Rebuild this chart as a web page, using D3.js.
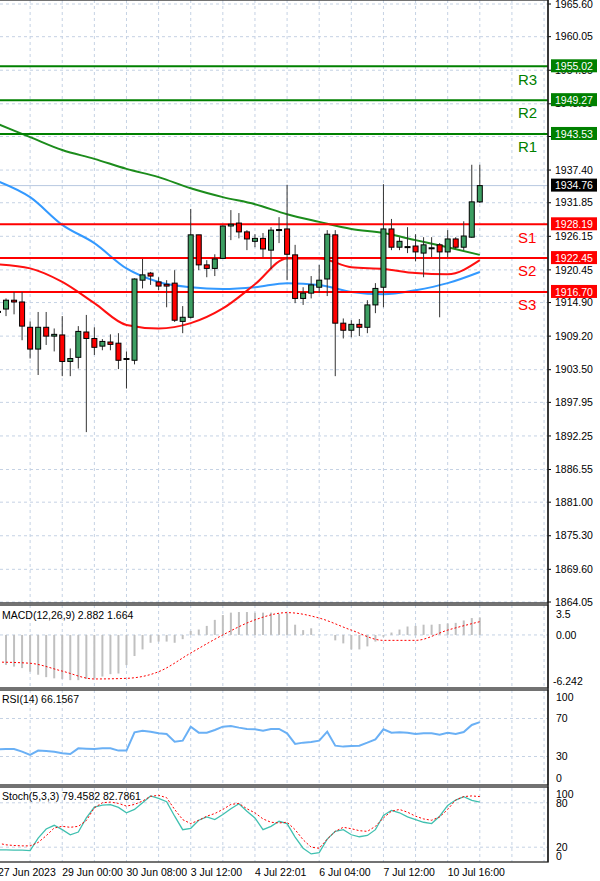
<!DOCTYPE html>
<html><head><meta charset="utf-8">
<script src="https://cdn.jsdelivr.net/npm/d3@7"></script>
<style>body{margin:0;background:#fff}svg{display:block;font-family:"Liberation Sans",Arial,sans-serif}</style>
</head><body>
<script>
// candles: open, high, low, close
var opens  = [1913.3,1913.8,1915.3,1915.0,1910.7,1907.0,1910.7,1909.2,1909.4,1904.9,1905.6,1909.9,1908.8,1907.5,1908.2,1908.0,1905.3,1905.1,1918.7,1919.9,1918.4,1918.0,1918.2,1911.7,1912.4,1926.4,1921.3,1920.7,1922.4,1927.9,1928.4,1926.9,1925.3,1925.8,1923.8,1927.2,1927.4,1923.0,1915.6,1916.5,1917.5,1918.9,1926.4,1911.4,1910.2,1911.2,1910.7,1914.5,1917.5,1927.4,1924.3,1924.3,1924.5,1923.3,1924.1,1924.7,1923.5,1925.7,1924.3,1926.0,1932.0]
var highs  = [1913.6,1915.6,1916.7,1916.7,1911.7,1913.3,1913.3,1910.5,1912.6,1907.1,1910.9,1912.8,1910.7,1908.7,1909.5,1909.7,1906.6,1919.0,1922.3,1920.1,1919.2,1918.7,1920.4,1914.3,1930.8,1926.4,1922.1,1923.1,1928.0,1930.6,1930.1,1927.2,1926.5,1926.7,1927.7,1929.4,1934.9,1924.7,1917.5,1919.4,1921.3,1927.2,1927.2,1912.2,1911.9,1912.1,1915.3,1918.2,1935.0,1929.1,1926.0,1927.7,1926.5,1926.0,1926.0,1925.0,1927.2,1926.0,1928.7,1938.3,1938.3]
var lows   = [1912.9,1912.6,1912.9,1908.5,1905.4,1902.6,1907.7,1906.6,1902.4,1902.4,1903.7,1892.9,1906.0,1906.8,1906.8,1903.6,1900.3,1904.4,1917.3,1917.9,1917.0,1914.1,1911.6,1909.7,1912.2,1920.4,1919.2,1919.4,1922.3,1925.5,1925.8,1923.8,1924.3,1922.6,1920.6,1925.0,1918.7,1914.8,1914.5,1915.6,1916.5,1916.0,1902.4,1908.8,1909.0,1909.2,1909.7,1913.1,1914.1,1923.8,1923.8,1923.3,1921.9,1919.2,1922.6,1912.4,1922.6,1924.0,1923.8,1925.9,1931.8]
var closes = [1913.4,1915.3,1915.0,1910.9,1907.0,1910.7,1909.2,1909.5,1904.9,1905.4,1910.0,1908.8,1907.3,1908.3,1907.8,1905.1,1905.4,1918.9,1919.6,1919.4,1917.7,1917.7,1911.9,1912.4,1926.4,1921.3,1920.7,1922.3,1927.9,1928.2,1926.9,1925.7,1925.8,1924.0,1927.2,1927.3,1923.1,1915.6,1916.5,1917.9,1918.7,1926.5,1911.4,1910.2,1911.2,1910.7,1914.5,1917.3,1927.4,1924.3,1925.3,1924.4,1923.5,1924.7,1924.2,1923.5,1925.7,1924.3,1926.2,1932.0,1934.76]

// moving averages, read every 4th candle
var maIdx   = [0,4,8,12,16,20,24,28,32,36,40,44,48,52,56,60]
var maGreen = [1945.2,1943.0,1940.8,1939.3,1937.6,1936.2,1934.3,1932.8,1931.6,1929.9,1928.6,1927.4,1926.7,1925.5,1924.3,1923.0]
var maBlue  = [1935.5,1932.8,1928.1,1925.0,1920.7,1918.4,1917.5,1917.2,1917.5,1918.2,1917.9,1916.7,1916.3,1917.0,1918.2,1920.1]
var maRed   = [1921.4,1920.7,1918.4,1914.8,1911.1,1910.5,1911.4,1913.9,1918.0,1922.4,1922.4,1920.9,1920.6,1919.9,1919.7,1922.1]

var levelNames  = ["R3","R2","R1","S1","S2","S3"]
var levelValues = [1955.02,1949.27,1943.53,1928.19,1922.45,1916.70]
var priceTicks = [1965.60,1960.05,1954.35,1948.65,1943.10,1937.40,1931.85,1926.15,1920.45,1914.90,1909.20,1903.50,1897.95,1892.25,1886.55,1881.00,1875.30,1869.60,1864.05]

// MACD histogram (candles 1..60) and signal (every 4th candle)
var macdHist = [-4.97,-5.25,-5.5,-6.1,-6.6,-7.0,-7.2,-7.3,-7.5,-7.5,-7.3,-7.2,-6.9,-6.5,-6.4,-5.0,-3.5,-2.4,-1.3,-1.1,-1.1,-1.3,-0.7,0.66,0.9,1.5,2.5,3.3,3.7,3.8,3.8,3.7,3.7,3.7,3.5,3.6,1.7,0.8,1.1,0.05,0.05,-0.9,-1.4,-2.4,-2.4,-1.9,-1.1,-0.3,0.4,0.9,1.4,1.5,1.7,1.7,1.8,1.9,2.0,2.4,2.8,2.88]
var macdSignal = [-4.5,-4.7,-6.0,-7.3,-7.2,-6.1,-3.0,0.0,2.5,3.7,2.8,0.8,-0.9,-0.9,0.8,2.2]

var rsi = [37.6,37.9,37.9,35.1,31.6,36.2,35.8,35.1,33.4,32.6,38.6,38.2,37.9,38.6,38.6,36.2,36.2,55.5,57.2,56.1,54.4,53.7,45.6,46.7,61.4,55.1,55.1,57.9,61.4,62.1,60.4,59.0,58.6,57.2,59.0,59.0,54.4,43.2,44.6,45.3,46.7,56.1,41.4,40.4,41.1,41.4,44.6,48.1,58.6,55.1,55.4,55.1,53.7,54.4,54.4,53.0,55.1,53.7,55.8,63.2,66.2]
var stochK = [16.4,16.4,16,16,15.5,32.3,44.6,49.6,43.7,36.8,40.5,59.6,74.2,76.9,77.4,73.7,66.5,71.0,80.1,89.2,86.0,81.4,61.9,43.7,45.5,56.4,60.9,57.3,64.1,71.9,78.7,68.7,59.6,43.7,48.2,55.0,51.9,33.7,18.7,10.9,12.7,30.9,41.4,43.7,36.8,34.1,35.9,43.7,62.8,69.6,66.5,60.9,57.3,53.7,51.9,61.9,76.4,83.7,88.2,83.2,80.9]
var stochD = [25.5,23.2,22.3,21.8,21.8,26.4,35.5,46.0,48.2,46.9,48.2,56.0,73.2,80.1,81.0,79.2,75.5,77.8,82.4,88.7,90.1,86.9,71.0,57.3,51.9,56.4,61.9,65.5,71.0,77.8,79.2,71.9,66.5,58.2,53.7,52.8,53.7,43.7,30.0,20.0,18.6,30.9,41.4,46.9,45.0,42.3,41.4,48.2,59.6,68.7,71.0,67.3,61.9,58.2,56.4,60.9,71.0,83.8,88.4,89.3,88.4]

var timeLabels = ["27 Jun 2023","29 Jun 00:00","30 Jun 08:00","3 Jul 12:00","4 Jul 22:01","6 Jul 04:00","7 Jul 12:00","10 Jul 16:00"]
var timeIdx = [0,8,16,24,32,40,48,56]

var W=600,H=881,R=548
var svg=d3.select('body').append('svg').attr('width',W).attr('height',H)
var x=d3.scaleLinear().domain([0,60]).range([-2,479.8])
var y=d3.scaleLinear().domain([1864.05,1965.60]).range([602,4])
var ym=d3.scaleLinear().domain([-8.8,4.8]).range([688,606])
var yr=d3.scaleLinear().domain([0,100]).range([785,690])
var ys=d3.scaleLinear().domain([0,100]).range([862,788])
var gridC='#c5d2e4', fs=10.5

function vgrid(t,b){
  d3.range(4,70,4).forEach(function(i){
    svg.append('line').attr('x1',x(i)).attr('x2',x(i)).attr('y1',t).attr('y2',b)
      .attr('stroke',gridC).attr('stroke-dasharray','3,3')})
}
function hgrid(v,sc){
  svg.append('line').attr('x1',0).attr('x2',R).attr('y1',sc(v)).attr('y2',sc(v))
    .attr('stroke',gridC).attr('stroke-dasharray','3,3')
}
function lab(txt,xx,yy,col,anchor){
  return svg.append('text').attr('x',xx).attr('y',yy).attr('dy','0.35em').attr('font-size',fs)
    .attr('fill',col||'#000').attr('text-anchor',anchor||'start').text(txt)
}

// ---- main panel
vgrid(0,603)
priceTicks.forEach(function(v){hgrid(v,y); lab(v.toFixed(2),555,y(v))
  svg.append('line').attr('x1',R).attr('x2',R+3).attr('y1',y(v)).attr('y2',y(v)).attr('stroke','#000')})
// current price line
svg.append('line').attr('x1',0).attr('x2',R).attr('y1',y(1934.76)).attr('y2',y(1934.76)).attr('stroke','#b8c8e0')

function maLine(vals,col){
  svg.append('path').datum(vals).attr('fill','none').attr('stroke',col).attr('stroke-width',2)
    .attr('d',d3.line().curve(d3.curveMonotoneX).x(function(d,k){return x(maIdx[k])}).y(function(d){return y(d)}))
}
maLine(maGreen,'#1c8c1c'); maLine(maBlue,'#3399ff'); maLine(maRed,'#ff1010')

levelValues.forEach(function(v,k){
  var col=k<3?'#008000':'#ff0000'
  svg.append('line').attr('x1',0).attr('x2',R).attr('y1',y(v)).attr('y2',y(v)).attr('stroke',col).attr('stroke-width',2)
  svg.append('text').attr('x',518).attr('y',y(v)+13).attr('dy','0.35em').attr('font-size',15)
    .attr('fill',col).text(levelNames[k])
})

// candles
var cw=5
closes.forEach(function(c,i){
  var o=opens[i],up=c>=o,cx=x(i)
  svg.append('line').attr('x1',cx).attr('x2',cx).attr('y1',y(highs[i])).attr('y2',y(lows[i])).attr('stroke','#333')
  var top=y(Math.max(o,c)),h=Math.max(1,Math.abs(y(o)-y(c)))
  svg.append('rect').attr('x',cx-cw/2).attr('y',top).attr('width',cw).attr('height',h)
    .attr('fill',up?'#3c9e62':'#ff0000').attr('stroke','#000').attr('stroke-width',1)
})

// right axis boxes
function box(v,col,txt){
  svg.append('rect').attr('x',551).attr('y',y(v)-7).attr('width',46).attr('height',13).attr('fill',col)
  lab(txt,555,y(v),'#fff')
}
levelValues.forEach(function(v,k){box(v,k<3?'#008000':'#ff0000',v.toFixed(2))})
box(1934.76,'#000','1934.76')

// ---- MACD
vgrid(605,688)
hgrid(0,ym)
macdHist.forEach(function(v,k){
  svg.append('line').attr('x1',x(k+1)).attr('x2',x(k+1)).attr('y1',ym(0)).attr('y2',ym(v)).attr('stroke','#c0c0c0').attr('stroke-width',2)
})
svg.append('path').datum(macdSignal).attr('fill','none').attr('stroke','#ff0000').attr('stroke-dasharray','2,2')
  .attr('d',d3.line().curve(d3.curveMonotoneX).x(function(d,k){return x(maIdx[k])}).y(function(d){return ym(d)}))
lab('MACD(12,26,9) 2.882 1.664',2,615)
lab('3.5',556,614); lab('0.00',556,ym(0)); lab('-6.242',553,681)

// ---- RSI
vgrid(690,785)
;[70,30].forEach(function(v){hgrid(v,yr)})
svg.append('path').datum(rsi).attr('fill','none').attr('stroke','#6ab0f5').attr('stroke-width',2)
  .attr('d',d3.line().x(function(d,i){return x(i)}).y(function(d){return yr(d)}))
lab('RSI(14) 66.1567',2,699)
lab('100',556,697); lab('70',556,yr(70)); lab('30',556,yr(30)); lab('0',556,778)

// ---- Stoch
vgrid(788,862)
;[80,20].forEach(function(v){hgrid(v,ys)})
svg.append('path').datum(stochK).attr('fill','none').attr('stroke','#40c0b0').attr('stroke-width',1.3)
  .attr('d',d3.line().x(function(d,i){return x(i)}).y(function(d){return ys(d)}))
svg.append('path').datum(stochD).attr('fill','none').attr('stroke','#ff0000').attr('stroke-dasharray','2,2')
  .attr('d',d3.line().x(function(d,i){return x(i)}).y(function(d){return ys(d)}))
lab('Stoch(5,3,3) 79.4582 82.7861',2,796)
lab('100',556,794); lab('80',556,803); lab('20',556,ys(20)); lab('0',556,856)

// panel frames
;[[0,603],[605,688],[690,785],[787,862]].forEach(function(p){
  svg.append('rect').attr('x',-2).attr('y',p[0]).attr('width',R+2).attr('height',p[1]-p[0])
    .attr('fill','none').attr('stroke','#444').attr('stroke-width',1.5)
})
svg.append('line').attr('x1',R).attr('x2',R).attr('y1',0).attr('y2',862).attr('stroke','#000')

timeLabels.forEach(function(t,k){lab(t,timeIdx[k]?x(timeIdx[k]):-2,872)})
</script>
</body></html>
